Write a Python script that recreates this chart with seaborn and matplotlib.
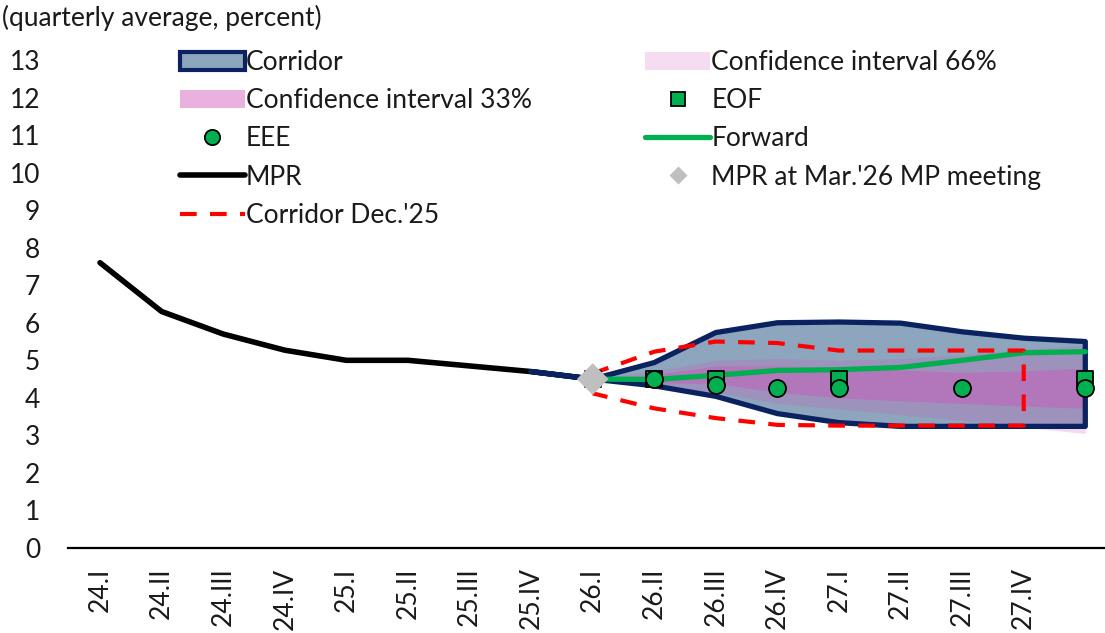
import numpy as np
import pandas as pd
import seaborn as sns
import matplotlib.pyplot as plt
from matplotlib.patches import Patch
from matplotlib.lines import Line2D

# quarters (index 16 = 28.I has no label on the axis)
quarters = ["24.I", "24.II", "24.III", "24.IV", "25.I", "25.II", "25.III", "25.IV",
            "26.I", "26.II", "26.III", "26.IV", "27.I", "27.II", "27.III", "27.IV", "28.I"]
tick_labels = quarters[:16]

# MPR history 24.I - 26.I
mpr = [7.6, 6.3, 5.7, 5.27, 5.0, 5.0, 4.85, 4.7, 4.5]

# corridor 25.IV - 28.I
corr_upper = [4.7, 4.5, 4.94, 5.74, 6.0, 6.02, 5.99, 5.76, 5.59, 5.5]
corr_lower = [4.7, 4.5, 4.32, 4.04, 3.58, 3.34, 3.24, 3.24, 3.24, 3.24]

# confidence intervals 26.I - 28.I
ci33_lo = [4.5, 4.4, 4.38, 4.15, 4.0, 3.92, 3.85, 3.78, 3.72]
ci33_hi = [4.5, 4.62, 4.85, 4.85, 4.78, 4.74, 4.68, 4.72, 4.79]
ci66_lo = [4.5, 4.3, 4.15, 3.85, 3.7, 3.55, 3.4, 3.22, 3.05]
ci66_hi = [4.5, 4.72, 5.0, 5.05, 5.0, 5.05, 5.15, 5.3, 5.4]

# corridor Dec.'25, 26.I - 27.IV
dec_upper = [4.65, 5.23, 5.5, 5.46, 5.26, 5.26, 5.26, 5.26]
dec_lower = [4.12, 3.72, 3.46, 3.28, 3.26, 3.26, 3.26, 3.26]

# forward 26.I - 28.I
forward = [4.5, 4.49, 4.6, 4.73, 4.75, 4.81, 5.0, 5.2, 5.23]

# surveys
eof_q = ["26.I", "26.II", "26.III", "27.I", "28.I"]
eof = [4.5, 4.5, 4.5, 4.5, 4.5]
eee_q = ["26.II", "26.III", "26.IV", "27.I", "27.III", "28.I"]
eee = [4.5, 4.33, 4.25, 4.27, 4.25, 4.26]

mpr_meeting_q = ["26.I"]
mpr_meeting = [4.5]

pos = {q: i for i, q in enumerate(quarters)}
x_mpr = np.arange(0, 9)
x_corr = np.arange(7, 17)
x_fan = np.arange(8, 17)
x_dec = np.arange(8, 16)

NAVY = "#0b2260"
CORR_FILL = "#8ea5be"
PINK = "#d152b9"
GREEN = "#00b050"
RED = "#ff0000"
FS = 19

sns.set_style("white")
plt.rcParams["font.family"] = ["Lato", "DejaVu Sans"]
plt.rcParams["font.size"] = FS

fig = plt.figure(figsize=(11.05, 6.33), dpi=100)
ax = fig.add_axes([68 / 1105, 1 - 548 / 633, 1 - 68 / 1105, (548 - 60) / 633])

# corridor
ax.fill_between(x_corr, corr_lower, corr_upper, color=CORR_FILL, lw=0, zorder=1)
# fan
ax.fill_between(x_fan, ci66_lo, ci66_hi, color=PINK, alpha=0.22, lw=0, zorder=2)
ax.fill_between(x_fan, ci33_lo, ci33_hi, color=PINK, alpha=0.42, lw=0, zorder=2)
# corridor outline
ax.plot(np.r_[x_corr, x_corr[::-1], x_corr[:1]],
        np.r_[corr_upper, corr_lower[::-1], corr_upper[:1]],
        color=NAVY, lw=3.8, solid_joinstyle="round", zorder=3)

# MPR
sns.lineplot(x=x_mpr, y=mpr, color="black", lw=4, ax=ax, zorder=2.5)

# forward
sns.lineplot(x=x_fan, y=forward, color=GREEN, lw=3.8, ax=ax, zorder=5)

# corridor Dec.'25 (upper, right edge, lower)
dec = pd.DataFrame({"x": np.r_[x_dec, x_dec[::-1]], "y": np.r_[dec_upper, dec_lower[::-1]]})
sns.lineplot(data=dec, x="x", y="y", sort=False, estimator=None, color=RED, lw=3,
             ax=ax, zorder=6, dashes=False)
ax.lines[-1].set_dashes([4, 3.2])

# survey points
sns.scatterplot(x=[pos[q] for q in eof_q], y=eof, marker="s", s=120, color=GREEN,
                edgecolor="black", linewidth=1.3, ax=ax, zorder=7)
sns.scatterplot(x=[pos[q] for q in eee_q], y=eee, marker="o", s=150, color=GREEN,
                edgecolor="black", linewidth=1.3, ax=ax, zorder=8)
sns.scatterplot(x=[pos[q] for q in mpr_meeting_q], y=mpr_meeting, marker="D", s=260,
                color="#bfbfbf", edgecolor="none", ax=ax, zorder=9)

ax.set_xlim(-0.52, 16.32)
ax.set_ylim(0, 13)
ax.set_yticks(range(0, 14))
ax.set_xticks(range(16))
ax.set_xticklabels(tick_labels, rotation=90, va="top")
ax.tick_params(axis="both", length=0, labelsize=FS, colors="#1a1a1a")
ax.tick_params(axis="x", pad=14)
ax.tick_params(axis="y", pad=20)
ax.set_xlabel("")
ax.set_ylabel("")
for side in ["top", "right", "left"]:
    ax.spines[side].set_visible(False)
ax.spines["bottom"].set_color("black")
ax.spines["bottom"].set_linewidth(1.6)
ax.grid(False)

fig.text(2 / 1105, 1 - 18 / 633, "(quarterly average, percent)", ha="left", va="center",
         fontsize=FS, color="#1a1a1a")

handles = [
    Patch(facecolor=CORR_FILL, edgecolor=NAVY, linewidth=3),
    Patch(facecolor=PINK, alpha=0.45, edgecolor="none"),
    Line2D([], [], ls="none", marker="o", markersize=11, markerfacecolor=GREEN,
           markeredgecolor="black", markeredgewidth=1.3),
    Line2D([], [], color="black", lw=4),
    Line2D([], [], color=RED, lw=3, dashes=[4, 3.2]),
    Patch(facecolor=PINK, alpha=0.2, edgecolor="none"),
    Line2D([], [], ls="none", marker="s", markersize=10, markerfacecolor=GREEN,
           markeredgecolor="black", markeredgewidth=1.3),
    Line2D([], [], color=GREEN, lw=3.8),
    Line2D([], [], ls="none", marker="D", markersize=9, markerfacecolor="#bfbfbf",
           markeredgecolor="none"),
]
labels = ["Corridor", "Confidence interval 33%", "EEE", "MPR", "Corridor Dec.'25",
          "Confidence interval 66%", "EOF", "Forward", "MPR at Mar.'26 MP meeting"]
fig.legend(handles, labels, ncol=2, loc="upper left",
           bbox_to_anchor=(180 / 1105, 1 - 50 / 633), frameon=False, fontsize=FS,
           handlelength=2.45, handleheight=0.7, handletextpad=0.05, labelspacing=0.5,
           columnspacing=4.3, borderpad=0, borderaxespad=0, labelcolor="#1a1a1a")

fig.savefig("out.png", dpi=100)
